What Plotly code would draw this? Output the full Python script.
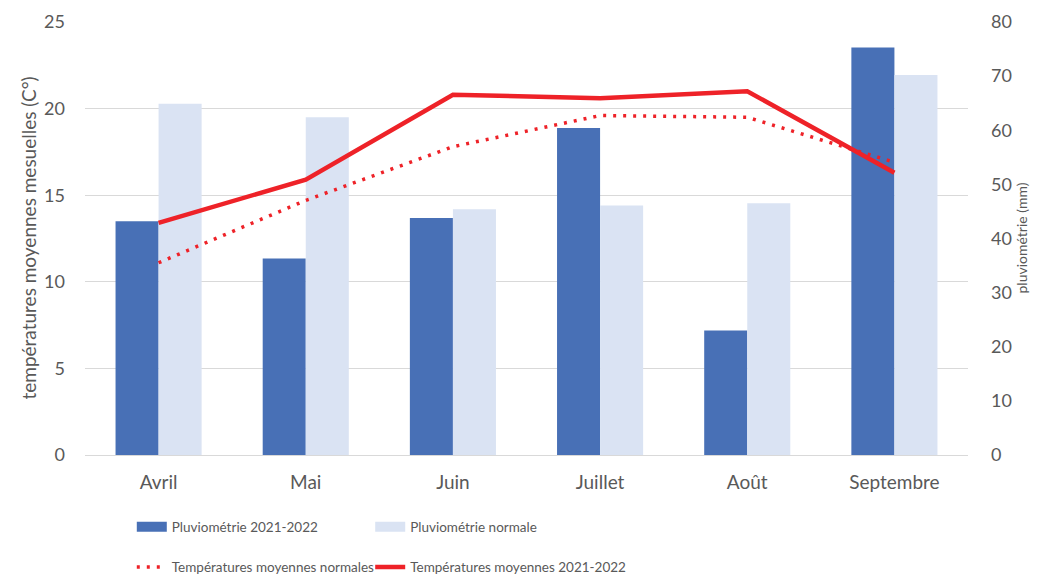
import plotly.graph_objects as go

# ─── Data ─────────────────────────────────────────────────────────────────────
mois = ["Avril", "Mai", "Juin", "Juillet", "Août", "Septembre"]

pluvio_2122 = [43.2, 36.3, 43.8, 60.4, 23.0, 75.3]
pluvio_normale = [64.9, 62.4, 45.4, 46.1, 46.5, 70.2]

temp_normales = [11.1, 14.7, 17.8, 19.6, 19.5, 16.9]
temp_2122 = [13.4, 15.9, 20.8, 20.6, 21.0, 16.3]

GRIS = "#595959"
FONT = "Lato, 'Open Sans', sans-serif"
ROUGE = "#EE2228"
BLEU = "#4870B6"
BLEU_CLAIR = "#DAE3F3"

# the page body keeps an 8 px margin, so the figure is 8 px smaller each way
W, H = 1030, 569
M = dict(l=77, r=70, t=14, b=122)
PW = W - M["l"] - M["r"]

fig = go.Figure()

# bars on the primary axis (shown on the right) so the lines sit on top
fig.add_trace(go.Bar(
    x=mois, y=pluvio_2122, name="Pluviométrie 2021-2022",
    marker=dict(color=BLEU, line=dict(width=0)),
    yaxis="y", showlegend=False,
))
fig.add_trace(go.Bar(
    x=mois, y=pluvio_normale, name="Pluviométrie normale",
    marker=dict(color=BLEU_CLAIR, line=dict(width=0)),
    yaxis="y", showlegend=False,
))
fig.add_trace(go.Scatter(
    x=mois, y=temp_normales, name="Températures moyennes normales",
    mode="lines", line=dict(color=ROUGE, width=3.5, dash="3px,7px"),
    yaxis="y2", legend="legend3",
))
fig.add_trace(go.Scatter(
    x=mois, y=temp_2122, name="Températures moyennes 2021-2022",
    mode="lines", line=dict(color=ROUGE, width=4.5),
    yaxis="y2", legend="legend4",
))

# legend-only entries drawn as wide rectangles like the original legend
for nom, coul, leg in [("Pluviométrie 2021-2022", BLEU, "legend"),
                       ("Pluviométrie normale", BLEU_CLAIR, "legend2")]:
    fig.add_trace(go.Scatter(
        x=[None], y=[None], name=nom, mode="lines",
        line=dict(color=coul, width=12), yaxis="y", legend=leg,
    ))

legend_common = dict(
    orientation="h", xanchor="left", yanchor="middle",
    font=dict(family=FONT, size=13.5, color=GRIS),
    bgcolor="rgba(0,0,0,0)",
)
col1, col2 = 0.053, 0.323
row1, row2 = -0.166, -0.259

# axis titles as annotations so they sit exactly where the original has them
fig.add_annotation(
    text="températures moyennes mesuelles (C°)", textangle=-90, showarrow=False,
    xref="paper", yref="paper", xanchor="center", yanchor="middle",
    x=(20 - M["l"]) / PW, y=0.5,
    font=dict(family=FONT, size=19, color=GRIS),
)
fig.add_annotation(
    text="pluviométrie (mm)", textangle=-90, showarrow=False,
    xref="paper", yref="paper", xanchor="center", yanchor="middle",
    x=(1013 - M["l"]) / PW, y=0.5,
    font=dict(family=FONT, size=14, color=GRIS),
)

fig.update_layout(
    width=W, height=H,
    margin=dict(**M, autoexpand=False),
    paper_bgcolor="white", plot_bgcolor="white",
    font=dict(family=FONT, size=18, color=GRIS),
    barmode="group", bargap=0.415, bargroupgap=0,
    xaxis=dict(
        showgrid=False, showline=True, linecolor="#D9D9D9", linewidth=1,
        ticks="", ticklabelstandoff=10, automargin=False,
        tickfont=dict(family=FONT, size=19, color=GRIS),
    ),
    yaxis=dict(
        side="right", range=[0, 80], dtick=10, showgrid=False, zeroline=False,
        ticks="", ticklabelstandoff=22, automargin=False,
        tickfont=dict(family=FONT, size=18, color=GRIS),
    ),
    yaxis2=dict(
        side="left", overlaying="y", range=[0, 25], dtick=5,
        showgrid=True, gridcolor="#D9D9D9", gridwidth=1, zeroline=False,
        ticks="", ticklabelstandoff=19, automargin=False,
        tickfont=dict(family=FONT, size=18, color=GRIS),
    ),
    legend=dict(x=col1, y=row1, **legend_common),
    legend2=dict(x=col2, y=row1, **legend_common),
    legend3=dict(x=col1, y=row2, **legend_common),
    legend4=dict(x=col2, y=row2, **legend_common),
)

fig.write_html("out.html")
